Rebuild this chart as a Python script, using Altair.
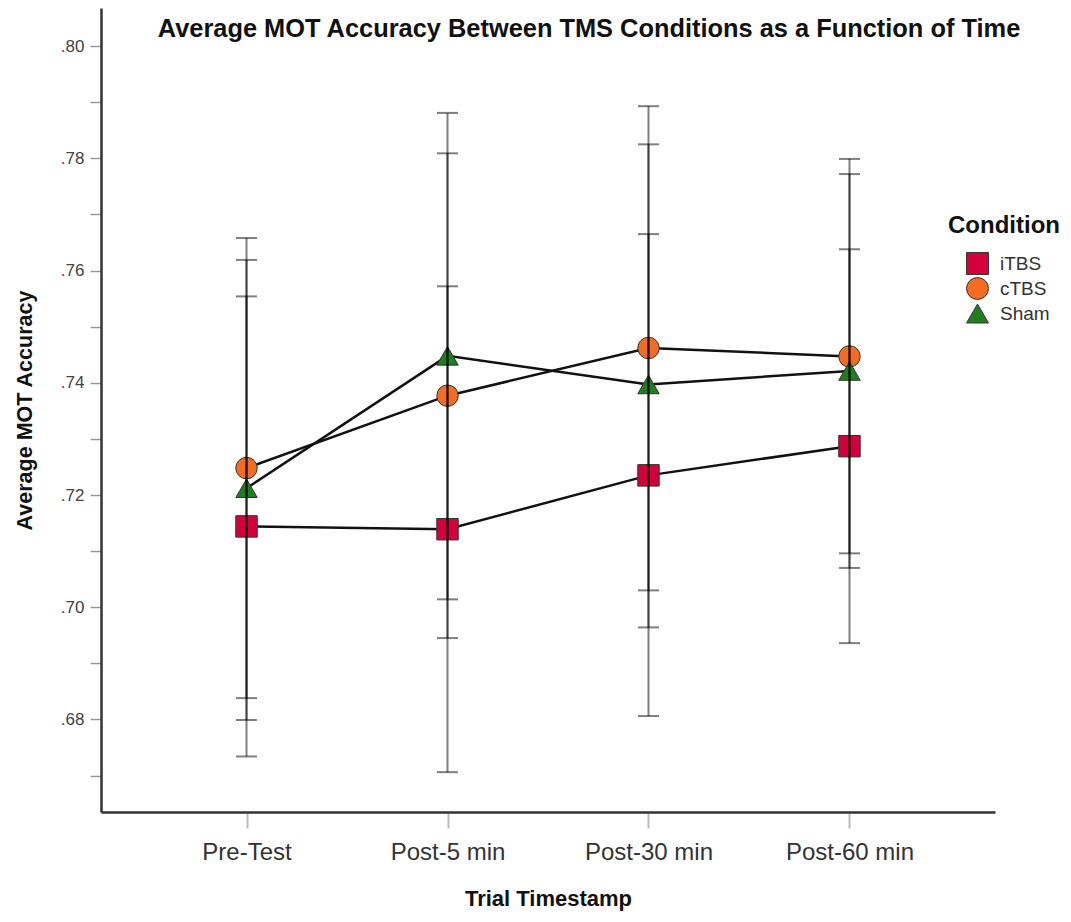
import altair as alt
import pandas as pd

times = ["Pre-Test", "Post-5 min", "Post-30 min", "Post-60 min"]
conditions = ["iTBS", "cTBS", "Sham"]

itbs_mean = [0.7144, 0.7139, 0.7235, 0.7287]
itbs_lo = [0.6734, 0.6706, 0.6806, 0.6936]
itbs_hi = [0.7554, 0.7572, 0.7665, 0.7638]

ctbs_mean = [0.7248, 0.7377, 0.7462, 0.7447]
ctbs_lo = [0.6838, 0.6945, 0.7030, 0.7096]
ctbs_hi = [0.7658, 0.7809, 0.7893, 0.7799]

sham_mean = [0.7212, 0.7448, 0.7397, 0.7421]
sham_lo = [0.6799, 0.7014, 0.6964, 0.7070]
sham_hi = [0.7619, 0.7881, 0.7825, 0.7772]

y_ticks = [0.67, 0.68, 0.69, 0.70, 0.71, 0.72, 0.73, 0.74, 0.75, 0.76, 0.77, 0.78, 0.79, 0.80]
title_text = "Average MOT Accuracy Between TMS Conditions as a Function of Time"
legend_title = "Condition"

rows = []
for cond, m, lo, hi in [("iTBS", itbs_mean, itbs_lo, itbs_hi),
                        ("cTBS", ctbs_mean, ctbs_lo, ctbs_hi),
                        ("Sham", sham_mean, sham_lo, sham_hi)]:
    for t, a, b, c in zip(times, m, lo, hi):
        rows.append({"Time": t, "Condition": cond, "mean": a, "lo": b, "hi": c})
df = pd.DataFrame(rows)

FONT = "Liberation Sans"

x_enc = alt.X("Time:N", sort=times,
              scale=alt.Scale(type="point", padding=0.724),
              axis=alt.Axis(title="Trial Timestamp", labelAngle=0,
                            labelFontSize=24, labelColor="#333333", labelFont=FONT,
                            labelPadding=12,
                            tickSize=16, tickColor="#bbbbbb", tickWidth=2,
                            domainColor="#333333", domainWidth=2.5,
                            titleFontSize=22, titleFontWeight="bold", titleFont=FONT,
                            titleColor="#111111", titlePadding=24))

y_scale = alt.Scale(domain=[0.6635, 0.8068], nice=False, zero=False)
y_axis = alt.Axis(title="Average MOT Accuracy", values=y_ticks,
                  labelExpr="round(datum.value*100) % 2 == 0 ? substring(format(datum.value, '.2f'), 1) : ''",
                  labelFontSize=17, labelColor="#444444", labelFont=FONT, labelPadding=6,
                  tickSize=11, tickColor="#999999", tickWidth=1.5,
                  domainColor="#333333", domainWidth=2.5, grid=False,
                  titleFontSize=21.5, titleFontWeight="bold", titleFont=FONT,
                  titleColor="#111111", titlePadding=24)

base = alt.Chart(df)

lines = base.mark_line(color="#111111", strokeWidth=2.5).encode(
    x=x_enc,
    y=alt.Y("mean:Q", scale=y_scale, axis=y_axis),
    detail="Condition:N",
)

points = base.mark_point(filled=True, size=460, opacity=1, stroke="#333333", strokeWidth=1).encode(
    x=alt.X("Time:N", sort=times),
    y=alt.Y("mean:Q", scale=y_scale),
    color=alt.Color("Condition:N", sort=conditions,
                    scale=alt.Scale(domain=conditions, range=["#D4003B", "#F26D21", "#1F7F1F"]),
                    legend=alt.Legend(title=None, orient="none", legendX=865, legendY=244,
                                      labelFontSize=19, labelFont=FONT, labelColor="#333333",
                                      symbolSize=480, symbolStrokeColor="#333333", symbolStrokeWidth=1,
                                      rowPadding=-3, labelOffset=11, padding=0)),
    shape=alt.Shape("Condition:N", sort=conditions,
                    scale=alt.Scale(domain=conditions, range=["square", "circle", "triangle-up"])),
)

rules = base.mark_rule(color="#000000", strokeWidth=2, opacity=0.5).encode(
    x=alt.X("Time:N", sort=times),
    y=alt.Y("lo:Q", scale=y_scale),
    y2="hi:Q",
)

caps_lo = base.mark_tick(color="#000000", thickness=2, size=21, opacity=0.5, orient="horizontal").encode(
    x=alt.X("Time:N", sort=times),
    y=alt.Y("lo:Q", scale=y_scale),
)
caps_hi = base.mark_tick(color="#000000", thickness=2, size=21, opacity=0.5, orient="horizontal").encode(
    x=alt.X("Time:N", sort=times),
    y=alt.Y("hi:Q", scale=y_scale),
)

title = alt.Chart(pd.DataFrame({"t": [title_text]})).mark_text(
    font=FONT, fontSize=25.4, fontWeight="bold", color="#111111", align="center", baseline="middle"
).encode(text="t:N", x=alt.value(488), y=alt.value(21))

leg_title = alt.Chart(pd.DataFrame({"t": [legend_title]})).mark_text(
    font=FONT, fontSize=24, fontWeight="bold", color="#111111", align="center", baseline="middle"
).encode(text="t:N", x=alt.value(903), y=alt.value(218))

chart = alt.layer(lines, points, rules, caps_lo, caps_hi, title, leg_title).properties(
    width=894, height=804,
    autosize=alt.AutoSizeParams(type="none"),
    padding={"left": 93, "top": 0, "right": 68, "bottom": 102},
    background="white",
).configure_view(strokeWidth=0, stroke=None)

chart.save("out.html", embed_options={"renderer": "svg", "actions": False})
